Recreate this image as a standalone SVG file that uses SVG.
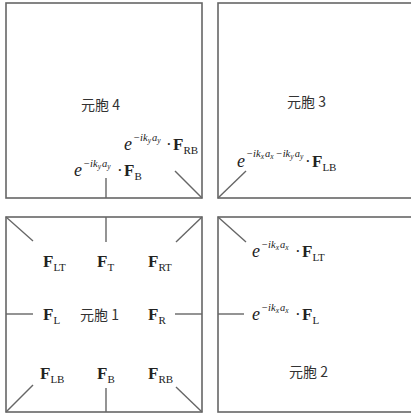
<svg xmlns="http://www.w3.org/2000/svg" width="411" height="419" viewBox="0 0 411 419">
<style>
.cell{fill:#fff;stroke:#666;stroke-width:1.6}
.ln{stroke:#666;stroke-width:1.4;fill:none}
.F{font-family:"Liberation Serif",serif;font-size:17px;font-weight:bold;fill:#222}
.sub{font-size:11px;font-weight:normal}
.m{font-family:"Liberation Serif",serif;font-style:italic;fill:#222}
.e{font-size:18px}
.sup{font-size:10.5px}
.ss{font-size:7.5px}
.dot{font-family:"Liberation Serif",serif;font-size:17px;fill:#222}
.lbl{font-family:"Noto Sans CJK SC","Liberation Sans",sans-serif;font-size:14px;fill:#333}
</style>
<rect width="411" height="419" fill="#fff"/>
<g id="cell4">
<rect class="cell" x="6" y="3" width="196" height="195"/>
<text class="lbl" x="81" y="110">元胞 4</text>
<text class="m e" x="124" y="150">e</text>
<text class="m sup" x="133" y="141">−ik<tspan class="ss" dy="2">y</tspan><tspan dx="1" dy="-2">a</tspan><tspan class="ss" dy="2">y</tspan></text>
<text class="dot" x="166" y="150">·</text>
<text class="F" x="173" y="150">F<tspan class="sub" dy="4">RB</tspan></text>
<text class="m e" x="74" y="176">e</text>
<text class="m sup" x="83" y="167">−ik<tspan class="ss" dy="2">y</tspan><tspan dx="1" dy="-2">a</tspan><tspan class="ss" dy="2">y</tspan></text>
<text class="dot" x="117" y="176">·</text>
<text class="F" x="124" y="176">F<tspan class="sub" dy="4">B</tspan></text>
</g>
<g id="cell3">
<rect class="cell" x="218" y="3" width="196" height="195"/>
<text class="lbl" x="287" y="107">元胞 3</text>
<text class="m e" x="237" y="167">e</text>
<text class="m sup" x="246" y="157">−ik<tspan class="ss" dy="2">x</tspan><tspan dx="1" dy="-2">a</tspan><tspan class="ss" dy="2">x</tspan><tspan dx="2" dy="-2">−ik</tspan><tspan class="ss" dy="2">y</tspan><tspan dx="1" dy="-2">a</tspan><tspan class="ss" dy="2">y</tspan></text>
<text class="dot" x="305" y="167">·</text>
<text class="F" x="312" y="167">F<tspan class="sub" dy="4">LB</tspan></text>
</g>
<g id="cell1">
<rect class="cell" x="6" y="217" width="196" height="195"/>
<text class="F" x="43" y="267">F<tspan class="sub" dy="4">LT</tspan></text>
<text class="F" x="97" y="267">F<tspan class="sub" dy="4">T</tspan></text>
<text class="F" x="148" y="267">F<tspan class="sub" dy="4">RT</tspan></text>
<text class="F" x="43" y="320">F<tspan class="sub" dy="4">L</tspan></text>
<text class="lbl" x="80" y="320">元胞 1</text>
<text class="F" x="148" y="320">F<tspan class="sub" dy="4">R</tspan></text>
<text class="F" x="40" y="379">F<tspan class="sub" dy="4">LB</tspan></text>
<text class="F" x="97" y="379">F<tspan class="sub" dy="4">B</tspan></text>
<text class="F" x="148" y="379">F<tspan class="sub" dy="4">RB</tspan></text>
</g>
<g id="cell2">
<rect class="cell" x="218" y="217" width="196" height="195"/>
<text class="m e" x="252" y="257">e</text>
<text class="m sup" x="261" y="248">−ik<tspan class="ss" dy="2">x</tspan><tspan dx="1" dy="-2">a</tspan><tspan class="ss" dy="2">x</tspan></text>
<text class="dot" x="295" y="257">·</text>
<text class="F" x="302" y="257">F<tspan class="sub" dy="4">LT</tspan></text>
<text class="m e" x="252" y="320">e</text>
<text class="m sup" x="261" y="311">−ik<tspan class="ss" dy="2">x</tspan><tspan dx="1" dy="-2">a</tspan><tspan class="ss" dy="2">x</tspan></text>
<text class="dot" x="295" y="320">·</text>
<text class="F" x="302" y="320">F<tspan class="sub" dy="4">L</tspan></text>
<text class="lbl" x="289" y="377">元胞 2</text>
</g>
<g id="connectors">
<line class="ln" x1="6" y1="217" x2="33" y2="241"/>
<line class="ln" x1="106" y1="217" x2="106" y2="242"/>
<line class="ln" x1="202" y1="217" x2="176" y2="242"/>
<line class="ln" x1="6" y1="314" x2="33" y2="314"/>
<line class="ln" x1="175" y1="314" x2="202" y2="314"/>
<line class="ln" x1="6" y1="412" x2="33" y2="385"/>
<line class="ln" x1="106" y1="388" x2="106" y2="412"/>
<line class="ln" x1="202" y1="412" x2="176" y2="387"/>
<line class="ln" x1="106" y1="178" x2="106" y2="198"/>
<line class="ln" x1="175" y1="171" x2="202" y2="198"/>
<line class="ln" x1="218" y1="198" x2="246" y2="171"/>
<line class="ln" x1="218" y1="217" x2="246" y2="242"/>
<line class="ln" x1="218" y1="314" x2="244" y2="314"/>
</g>
</svg>
